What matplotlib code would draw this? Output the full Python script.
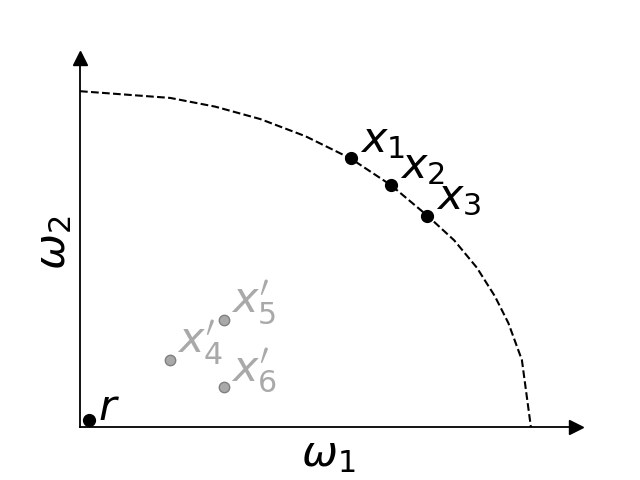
import matplotlib
matplotlib.use("Agg")
import matplotlib.pyplot as plt

# front (dashed)
front_x = [0.0, 0.2, 0.3, 0.4, 0.5, 0.6, 0.69, 0.77, 0.83, 0.88, 0.92, 0.95, 0.98, 1.0]
front_y = [1.0, 0.98, 0.954, 0.917, 0.866, 0.8, 0.72, 0.63, 0.556, 0.475, 0.39, 0.31, 0.2, 0.0]

# points on the front
good_labels = ["$x_1$", "$x_2$", "$x_3$"]
good_x = [0.6, 0.69, 0.77]
good_y = [0.8, 0.72, 0.63]

# dominated points
bad_labels = [r"$x^{\prime}_{4}$", r"$x^{\prime}_{5}$", r"$x^{\prime}_{6}$"]
bad_x = [0.2, 0.32, 0.32]
bad_y = [0.2, 0.32, 0.12]

ref_x, ref_y = 0.02, 0.02

fig, ax = plt.subplots(figsize=(6.4, 4.8), dpi=100)

ax.plot(front_x, front_y, "--", color="black", lw=1.5)

ax.plot(good_x, good_y, "o", color="black", ms=8.5)
for lab, x, y in zip(good_labels, good_x, good_y):
    ax.text(x + 0.02, y + 0.02, lab, fontsize=31, color="black")

ax.plot(bad_x, bad_y, "o", mfc="darkgray", mec="gray", ms=7.5)
for lab, x, y in zip(bad_labels, bad_x, bad_y):
    ax.text(x + 0.015, y + 0.02, lab, fontsize=31, color="darkgray")

ax.plot(ref_x, ref_y, "o", color="black", ms=8.5)
ax.text(ref_x + 0.02, ref_y + 0.0, "$r$", fontsize=31, color="black")

ax.set_xlim(0, 1.1)
ax.set_ylim(0, 1.1)
ax.spines[["top", "right"]].set_visible(False)
ax.spines[["left", "bottom"]].set_linewidth(1.3)
ax.set_xticks([])
ax.set_yticks([])
ax.plot(1, 0, ">k", ms=10, transform=ax.get_yaxis_transform(), clip_on=False)
ax.plot(0, 1, "^k", ms=10, transform=ax.get_xaxis_transform(), clip_on=False)

ax.set_xlabel(r"$\omega_1$", fontsize=31)
ax.set_ylabel(r"$\omega_2$", fontsize=31)

fig.savefig("out.png")
